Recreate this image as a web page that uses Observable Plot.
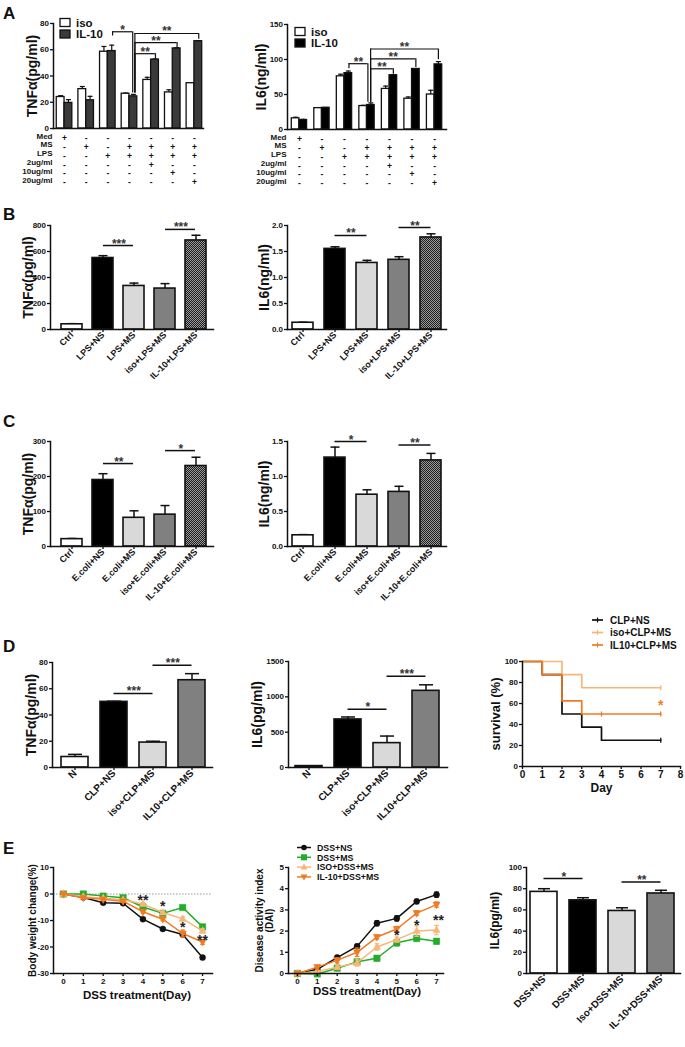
<!DOCTYPE html>
<html><head><meta charset="utf-8">
<script src="https://cdn.jsdelivr.net/npm/d3@7"></script>
<script src="https://cdn.jsdelivr.net/npm/@observablehq/plot@0.6"></script>
<style>
body{margin:0;background:#fff;}
#root{position:relative;width:685px;height:1047px;overflow:hidden;background:#fff;}
</style></head><body>
<svg width="0" height="0" style="position:absolute"><defs>
<pattern id="chk" width="2" height="2" patternUnits="userSpaceOnUse"><rect width="2" height="2" fill="#9a9a9a"/><rect width="1" height="1" fill="#1e1e1e"/><rect x="1" y="1" width="1" height="1" fill="#1e1e1e"/></pattern>
</defs></svg>
<div id="root"></div>
<script>
// ---------------- DATA ----------------
// Panel A
const aRowLabels = ["Med","MS","LPS","2ug/ml","10ug/ml","20ug/ml"];
const aSigns = [
  ["+","-","-","-","-","-","-"],
  ["-","+","-","+","+","+","+"],
  ["-","-","+","+","+","+","+"],
  ["-","-","-","-","+","-","-"],
  ["-","-","-","-","-","+","-"],
  ["-","-","-","-","-","-","+"]
];
const aLegend = ["iso","IL-10"];
const aTnfIso = [24, 30, 58.5, 26.5, 37, 27.5, 34.5];
const aTnfIsoErr = [1, 2, 4, 0.5, 2, 2, 0];
const aTnfIl10 = [19.5, 21.5, 59, 24.5, 52.5, 61, 66.5];
const aTnfIl10Err = [2.5, 3, 4.5, 1.5, 0.5, 0.5, 0.5];
const aIl6Iso = [16, 30.5, 76, 33.5, 58, 44, 50];
const aIl6IsoErr = [1.5, 0.5, 3, 1, 4, 2.5, 6];
const aIl6Il10 = [13.5, 31, 80.5, 35, 77.5, 86.5, 93];
const aIl6Il10Err = [1, 0.5, 3, 3, 1, 0.5, 4];
const aTnfBrackets = [
  {a: 2.22, b: 3.15, y: 73.7, ya: 70.5, yb: 27, label: "*"},
  {a: 3.25, b: 6.2, y: 72.4, ya: 27, yb: 68, label: "**"},
  {a: 3.25, b: 5.2, y: 65.5, ya: 27, yb: 61.8, label: "**"},
  {a: 3.25, b: 4.2, y: 57, ya: 27, yb: 53.3, label: "**"}
];
const aIl6Brackets = [
  {a: 2.2, b: 3.04, y: 94, ya: 86.7, yb: 39, label: "**"},
  {a: 3.16, b: 6.17, y: 115, ya: 39, yb: 99.5, label: "**"},
  {a: 3.16, b: 5.17, y: 101, ya: 39, yb: 88.5, label: "**"},
  {a: 3.16, b: 4.17, y: 86.7, ya: 39, yb: 79, label: "**"}
];
// Panel B
const bCats = ["Ctrl","LPS+NS","LPS+MS","iso+LPS+MS","IL-10+LPS+MS"];
const bTnf = [40, 550, 335, 315, 685];
const bTnfErr = [5, 18, 22, 38, 40];
const bIl6 = [0.13, 1.55, 1.28, 1.34, 1.77];
const bIl6Err = [0.01, 0.04, 0.05, 0.06, 0.07];
const bTnfSig = [{from:"LPS+NS", to:"LPS+MS", y:646, label:"***"}, {from:"iso+LPS+MS", to:"IL-10+LPS+MS", y:770, label:"***"}];
const bIl6Sig = [{from:"LPS+NS", to:"LPS+MS", y:1.81, label:"**"}, {from:"iso+LPS+MS", to:"IL-10+LPS+MS", y:1.96, label:"**"}];
// Panel C
const cCats = ["Ctrl","E.coli+NS","E.coli+MS","iso+E.coli+MS","IL-10+E.coli+MS"];
const cTnf = [21, 190, 82, 91, 230];
const cTnfErr = [2, 18, 20, 26, 25];
const cIl6 = [0.16, 1.27, 0.74, 0.78, 1.23];
const cIl6Err = [0.01, 0.15, 0.07, 0.08, 0.1];
const cTnfSig = [{from:"E.coli+NS", to:"E.coli+MS", y:237, label:"**"}, {from:"iso+E.coli+MS", to:"IL-10+E.coli+MS", y:274, label:"*"}];
const cIl6Sig = [{from:"E.coli+NS", to:"E.coli+MS", y:1.5, label:"*"}, {from:"iso+E.coli+MS", to:"IL-10+E.coli+MS", y:1.45, label:"**"}];
const fiveFills = ["#ffffff", "#000000", "#d9d9d9", "#808080", "url(#chk)"];
// Panel D
const dCats = ["N","CLP+NS","iso+CLP+MS","IL10+CLP+MS"];
const dTnf = [8, 50, 19, 66.5];
const dTnfErr = [2, 0.5, 1, 5];
const dIl6 = [20, 680, 345, 1085];
const dIl6Err = [5, 35, 100, 85];
const dFills = ["#ffffff", "#000000", "#d9d9d9", "#808080"];
const dTnfSig = [{from:"CLP+NS", to:"iso+CLP+MS", y:56.4, label:"***"}, {from:"iso+CLP+MS", to:"IL10+CLP+MS", y:78, label:"***"}];
const dIl6Sig = [{from:"CLP+NS", to:"iso+CLP+MS", y:823, label:"*"}, {from:"iso+CLP+MS", to:"IL10+CLP+MS", y:1291, label:"***"}];
// survival
const survNames = ["CLP+NS","iso+CLP+MS","IL10+CLP+MS"];
const survClpDays = [0, 1, 2, 3, 4, 7];
const survClpPct = [100, 87.5, 50, 37.5, 25, 25];
const survIsoDays = [0, 2, 3, 7];
const survIsoPct = [100, 87.5, 75, 75];
const survIl10Days = [0, 1, 2, 3, 7];
const survIl10Pct = [100, 87.5, 62.5, 50, 50];
const survClpCens = [[7, 25]];
const survIsoCens = [[7, 75]];
const survIl10Cens = [[4, 50], [7, 50]];
const survStar = [{t: 7, s: 61, label: "*"}];
// Panel E
const eDays = [0, 1, 2, 3, 4, 5, 6, 7];
const eNames = ["DSS+NS","DSS+MS","ISO+DSS+MS","IL-10+DSS+MS"];
const bwNS = [0, -1.3, -3.3, -3.5, -9.5, -13.2, -15.3, -24];
const bwNSErr = [0, 0.3, 0.4, 0.4, 0.5, 0.5, 0.6, 0.7];
const bwMS = [0, 0, -0.8, -1.4, -4.9, -7.3, -5.1, -12.4];
const bwMSErr = [0, 0.2, 0.3, 0.3, 0.5, 0.6, 0.5, 0.8];
const bwISO = [0, -1, -1.6, -2.2, -3.8, -7, -9.4, -13.9];
const bwISOErr = [0, 0.3, 0.3, 0.4, 0.5, 0.6, 0.7, 0.8];
const bwIL10 = [0, -1.4, -2, -2.7, -6.7, -9.5, -14.9, -18.1];
const bwIL10Err = [0, 0.3, 0.3, 0.4, 0.5, 0.6, 1.3, 0.9];
const bwStars = [{d: 4, v: -1.4, label: "**"}, {d: 5, v: -3.5, label: "*"}, {d: 6, v: -11.5, label: "*"}, {d: 7, v: -16.5, label: "**"}];
const daiNS = [0, 0.2, 0.75, 1.28, 2.37, 2.6, 3.4, 3.72];
const daiNSErr = [0, 0.05, 0.1, 0.1, 0.12, 0.12, 0.1, 0.12];
const daiMS = [0, -0.02, 0.25, 0.55, 0.72, 1.45, 1.65, 1.52];
const daiMSErr = [0, 0.02, 0.08, 0.1, 0.12, 0.15, 0.1, 0.12];
const daiISO = [0, 0.1, 0.3, 0.5, 1.25, 1.6, 2.0, 2.05];
const daiISOErr = [0, 0.05, 0.1, 0.15, 0.15, 0.12, 0.25, 0.22];
const daiIL10 = [0, 0.3, 0.62, 1.0, 1.72, 2.1, 2.85, 3.25];
const daiIL10Err = [0, 0.1, 0.12, 0.2, 0.1, 0.12, 0.1, 0.12];
const daiStars = [{d: 5, v: 1.95, label: "*"}, {d: 6, v: 2.4, label: "*"}, {d: 7.1, v: 2.65, label: "**"}];
const eCats = ["DSS+NS","DSS+MS","Iso+DSS+MS","IL-10+DSS+MS"];
const eIl6 = [77, 69, 59, 75.5];
const eIl6Err = [3, 2.5, 3, 3];
const eSig = [{from:"DSS+NS", to:"DSS+MS", y:89.6, label:"*"}, {from:"Iso+DSS+MS", to:"IL-10+DSS+MS", y:86.4, label:"**"}];

// ---------------- HELPERS ----------------
const FONT = '"Liberation Sans", Arial, Helvetica, sans-serif';
const INK = "#111";
const C_GREEN = "#22ad2a", C_PEACH = "#f7b679", C_ORANGE = "#ef7b22";
const root = document.getElementById("root");
const hline = {draw(ctx, size) { const r = Math.sqrt(size / Math.PI); ctx.moveTo(-r, 0); ctx.lineTo(r, 0); }};
const vtick = {draw(ctx, size) { const r = Math.sqrt(size / Math.PI); ctx.moveTo(0, -r); ctx.lineTo(0, r); }};
const triUp = {draw(ctx, size) { const r = Math.sqrt(size / Math.PI); ctx.moveTo(0, -r * 1.15); ctx.lineTo(-r, r * 0.7); ctx.lineTo(r, r * 0.7); ctx.closePath(); }};
const triDown = {draw(ctx, size) { const r = Math.sqrt(size / Math.PI); ctx.moveTo(0, r * 1.15); ctx.lineTo(-r, -r * 0.7); ctx.lineTo(r, -r * 0.7); ctx.closePath(); }};

function box(o, ml = 60, mr = 14, mt = 30, mb = 100) {
  return {L: o.x0 - ml, T: o.yt - mt, W: o.x1 - o.x0 + ml + mr, H: o.yb - o.yt + mt + mb, ml, mr, mt, mb};
}
function style(b) {
  return {position: "absolute", left: b.L + "px", top: b.T + "px", background: "transparent", overflow: "visible",
    fontFamily: FONT, fontWeight: "bold", maxWidth: "none", color: INK};
}
function axesMarks(o) {
  return [
    Plot.axisY({ticks: o.yticks, tickFormat: o.fmt || (d => String(d)), tickSize: 3, tickPadding: 1.5, fontSize: 8, label: null, strokeWidth: 1.3}),
    Plot.frame({anchor: "left", strokeWidth: 1.5}),
    Plot.frame({anchor: "bottom", strokeWidth: 1.5}),
    ...o.titles.map(t => Plot.text([t.text], {text: d => d, frameAnchor: "left", textAnchor: "middle", lineAnchor: "middle", rotate: -90, dx: t.dx, fontSize: t.size}))
  ];
}

function barChart(o) {
  const b = box(o);
  const n = o.cats.length, step = (o.cn - o.c0) / (n - 1), pi = 1 - o.bw / step;
  const rows = o.cats.map((c, i) => ({c, v: o.vals[i], e: o.errs[i], f: o.fills[i]}));
  const svg = Plot.plot({
    width: b.W, height: b.H, marginLeft: b.ml, marginRight: b.mr, marginTop: b.mt, marginBottom: b.mb,
    style: style(b),
    x: {type: "band", domain: o.cats, range: [o.c0 - step / 2 - b.L, o.cn + step / 2 - b.L], paddingInner: pi, paddingOuter: pi / 2},
    y: {domain: [0, o.ymax]},
    color: {type: "identity"},
    marks: [
      Plot.ruleX(rows, {x: "c", y1: "v", y2: d => d.v + d.e, stroke: INK, strokeWidth: 1.5}),
      Plot.dot(rows, {x: "c", y: d => d.v + d.e, symbol: hline, r: o.cap, stroke: INK, fill: "none", strokeWidth: 1.5}),
      Plot.barY(rows, {x: "c", y1: 0, y2: "v", fill: "f", stroke: INK, strokeWidth: 1.6}),
      Plot.ruleY(o.sig, {x1: "from", x2: "to", y: "y", insetLeft: o.bw / 2, insetRight: o.bw / 2, stroke: INK, strokeWidth: 1.5}),
      Plot.text(o.sig, {x: "from", dx: step / 2, y: "y", text: "label", lineAnchor: "bottom", dy: 2, fontSize: 12, fill: "#333"}),
      Plot.axisX({tickRotate: -45, tickSize: 3, tickPadding: 1, fontSize: o.catSize, label: null, strokeWidth: 1.3}),
      ...axesMarks(o)
    ]
  });
  root.appendChild(svg);
}

function groupChart(o) {
  const b = box(o, 60, 14, 30, 70);
  const rows = [];
  o.iso.forEach((v, i) => rows.push({x1: i - o.hw, x2: i, xc: i - o.hw / 2, v, e: o.isoErr[i], f: "#ffffff"}));
  o.il10.forEach((v, i) => rows.push({x1: i, x2: i + o.hw, xc: i + o.hw / 2, v, e: o.il10Err[i], f: o.il10Fill}));
  const idx = o.iso.map((_, i) => i);
  const marks = [
    Plot.ruleX(rows, {x: "xc", y1: "v", y2: d => d.v + d.e, stroke: INK, strokeWidth: 1.2}),
    Plot.dot(rows, {x: "xc", y: d => d.v + d.e, symbol: hline, r: 2.5, stroke: INK, fill: "none", strokeWidth: 1.2}),
    Plot.rect(rows, {x1: "x1", x2: "x2", y1: 0, y2: "v", fill: "f", stroke: INK, strokeWidth: 1.3}),
    Plot.ruleY(o.br, {x1: "a", x2: "b", y: "y", stroke: INK, strokeWidth: 1.2}),
    Plot.ruleX(o.br, {x: "a", y1: "ya", y2: "y", stroke: INK, strokeWidth: 1.2}),
    Plot.ruleX(o.br, {x: "b", y1: "yb", y2: "y", stroke: INK, strokeWidth: 1.2}),
    Plot.text(o.br, {x: d => (d.a + d.b) / 2, y: "y", text: "label", lineAnchor: "bottom", dy: 2, fontSize: 12, fill: "#333"}),
    ...axesMarks(o)
  ];
  aRowLabels.forEach((lab, r) => {
    const dy = 10 + r * 8.8;
    marks.push(Plot.text([lab], {text: d => d, frameAnchor: "bottom-left", textAnchor: "end", dx: -1, dy, fontSize: 8}));
    marks.push(Plot.text(idx, {x: d => d, y: 0, text: i => aSigns[r][i], dy, fontSize: 8.5}));
  });
  const svg = Plot.plot({
    width: b.W, height: b.H, marginLeft: b.ml, marginRight: b.mr, marginTop: b.mt, marginBottom: b.mb,
    style: style(b),
    x: {domain: o.xdom, axis: null},
    y: {domain: [0, o.ymax]},
    color: {type: "identity"},
    marks
  });
  root.appendChild(svg);
}

function lineChart(o) {
  const b = box(o, 60, 14, 30, 50);
  const marks = [];
  if (o.zero) marks.push(Plot.ruleY([0], {stroke: "#9a9a9a", strokeDasharray: "1.5,1.5", strokeWidth: 1}));
  o.series.forEach(s => {
    const rows = eDays.map((d, i) => ({d, v: s.vals[i], e: s.errs[i]}));
    marks.push(Plot.line(rows, {x: "d", y: "v", stroke: s.color, strokeWidth: 1.5}));
    marks.push(Plot.ruleX(rows, {x: "d", y1: r => r.v - r.e, y2: r => r.v + r.e, stroke: s.color, strokeWidth: 1.2}));
    marks.push(Plot.dot(rows, {x: "d", y: r => r.v + r.e, symbol: hline, r: 2.3, stroke: s.color, fill: "none", strokeWidth: 1.2}));
    marks.push(Plot.dot(rows, {x: "d", y: r => r.v - r.e, symbol: hline, r: 2.3, stroke: s.color, fill: "none", strokeWidth: 1.2}));
    marks.push(Plot.dot(rows, {x: "d", y: "v", symbol: s.symbol, r: s.r, fill: s.color, stroke: s.color, strokeWidth: 0.5}));
  });
  marks.push(Plot.text(o.stars, {x: "d", y: "v", text: "label", fontSize: 14, dy: 3, fill: "#222"}));
  marks.push(Plot.axisX({ticks: eDays, tickFormat: d => String(d), tickSize: 3, tickPadding: 1.5, fontSize: 8, label: null, strokeWidth: 1.3}));
  marks.push(Plot.text([o.xtitle], {text: d => d, frameAnchor: "bottom", textAnchor: "middle", dx: o.xtdx, dy: o.xtdy, fontSize: 11.5}));
  marks.push(...axesMarks(o));
  const svg = Plot.plot({
    width: b.W, height: b.H, marginLeft: b.ml, marginRight: b.mr, marginTop: b.mt, marginBottom: b.mb,
    style: style(b),
    x: {domain: o.xdom},
    y: {domain: o.ydom},
    marks
  });
  root.appendChild(svg);
}

function survChart(o) {
  const b = box(o, 60, 14, 30, 50);
  const series = [
    {days: survClpDays, pct: survClpPct, cens: survClpCens, color: INK},
    {days: survIsoDays, pct: survIsoPct, cens: survIsoCens, color: C_PEACH},
    {days: survIl10Days, pct: survIl10Pct, cens: survIl10Cens, color: C_ORANGE}
  ];
  const marks = [];
  series.forEach(s => {
    const rows = s.days.map((t, i) => ({t, p: s.pct[i]}));
    marks.push(Plot.line(rows, {x: "t", y: "p", curve: "step-after", stroke: s.color, strokeWidth: 1.7}));
    marks.push(Plot.dot(s.cens, {x: d => d[0], y: d => d[1], symbol: vtick, r: 2.5, stroke: s.color, fill: "none", strokeWidth: 1.3}));
  });
  marks.push(Plot.text(survStar, {x: "t", y: "s", text: "label", fill: C_ORANGE, fontSize: 14, dy: 3}));
  marks.push(Plot.axisX({ticks: d3.range(0, 9), tickFormat: d => String(d), tickSize: 3, tickPadding: 1.5, fontSize: 10, label: null, strokeWidth: 1.3}));
  marks.push(Plot.text(["Day"], {text: d => d, frameAnchor: "bottom", textAnchor: "middle", dy: 25, fontSize: 12}));
  marks.push(...axesMarks(o));
  const svg = Plot.plot({
    width: b.W, height: b.H, marginLeft: b.ml, marginRight: b.mr, marginTop: b.mt, marginBottom: b.mb,
    style: style(b),
    x: {domain: [0, 8]},
    y: {domain: [0, 100]},
    marks
  });
  root.appendChild(svg);
}

// ---------------- CHARTS ----------------
groupChart({x0: 53, x1: 203, yt: 23, yb: 128, xdom: [-0.51, 6.42], hw: 0.36,
  iso: aTnfIso, isoErr: aTnfIsoErr, il10: aTnfIl10, il10Err: aTnfIl10Err, il10Fill: "#3a3a3a",
  ymax: 80, yticks: [0, 20, 40, 60, 80], br: aTnfBrackets,
  titles: [{text: "TNFα(pg/ml)", dx: -21, size: 14}]});
groupChart({x0: 287, x1: 446, yt: 24, yb: 129, xdom: [-0.53, 6.53], hw: 0.34,
  iso: aIl6Iso, isoErr: aIl6IsoErr, il10: aIl6Il10, il10Err: aIl6Il10Err, il10Fill: "#000000",
  ymax: 150, yticks: [0, 50, 100, 150], br: aIl6Brackets,
  titles: [{text: "IL6(ng/ml)", dx: -26, size: 14}]});

barChart({x0: 50, x1: 213, yt: 225, yb: 329, c0: 70, cn: 197, bw: 22, cap: 4.5, catSize: 9,
  cats: bCats, vals: bTnf, errs: bTnfErr, fills: fiveFills, ymax: 800, yticks: [0, 200, 400, 600, 800],
  sig: bTnfSig, titles: [{text: "TNFα(pg/ml)", dx: -22, size: 14}]});
barChart({x0: 287, x1: 446, yt: 225, yb: 329, c0: 302, cn: 430, bw: 21, cap: 4.5, catSize: 9,
  cats: bCats, vals: bIl6, errs: bIl6Err, fills: fiveFills, ymax: 2, yticks: [0, 0.5, 1, 1.5, 2], fmt: d3.format(".1f"),
  sig: bIl6Sig, titles: [{text: "IL6(ng/ml)", dx: -23, size: 14}]});

barChart({x0: 50, x1: 213, yt: 441, yb: 546, c0: 70, cn: 197, bw: 22, cap: 4.5, catSize: 9,
  cats: cCats, vals: cTnf, errs: cTnfErr, fills: fiveFills, ymax: 300, yticks: [0, 100, 200, 300],
  sig: cTnfSig, titles: [{text: "TNFα(pg/ml)", dx: -22, size: 14}]});
barChart({x0: 287, x1: 446, yt: 441, yb: 546, c0: 302, cn: 430, bw: 21, cap: 4.5, catSize: 9,
  cats: cCats, vals: cIl6, errs: cIl6Err, fills: fiveFills, ymax: 1.5, yticks: [0, 0.5, 1, 1.5], fmt: d3.format(".1f"),
  sig: cIl6Sig, titles: [{text: "IL6(ng/ml)", dx: -23, size: 14}]});

barChart({x0: 52, x1: 212, yt: 662, yb: 767, c0: 73, cn: 192, bw: 27, cap: 7, catSize: 10,
  cats: dCats, vals: dTnf, errs: dTnfErr, fills: dFills, ymax: 80, yticks: [0, 20, 40, 60, 80],
  sig: dTnfSig, titles: [{text: "TNFα(pg/ml)", dx: -21, size: 14}]});
barChart({x0: 288, x1: 447, yt: 661, yb: 767, c0: 307, cn: 426, bw: 27, cap: 7, catSize: 10,
  cats: dCats, vals: dIl6, errs: dIl6Err, fills: dFills, ymax: 1500, yticks: [0, 500, 1000, 1500],
  sig: dIl6Sig, titles: [{text: "IL6(pg/ml)", dx: -31, size: 14}]});
survChart({x0: 522, x1: 680, yt: 661, yb: 766, yticks: [0, 20, 40, 60, 80, 100],
  titles: [{text: "survival (%)", dx: -27, size: 13}]});

const eSeriesStyle = [
  {color: INK, symbol: "circle", r: 3},
  {color: C_GREEN, symbol: "square", r: 3.6},
  {color: C_PEACH, symbol: triUp, r: 3.6},
  {color: C_ORANGE, symbol: triDown, r: 3.6}
];
lineChart({x0: 53, x1: 212, yt: 867, yb: 973, xdom: [-0.5, 7.5], ydom: [-30, 10], yticks: [-30, -20, -10, 0, 10], zero: true,
  series: [
    {vals: bwNS, errs: bwNSErr, ...eSeriesStyle[0]},
    {vals: bwMS, errs: bwMSErr, ...eSeriesStyle[1]},
    {vals: bwISO, errs: bwISOErr, ...eSeriesStyle[2]},
    {vals: bwIL10, errs: bwIL10Err, ...eSeriesStyle[3]}
  ], stars: bwStars, xtitle: "DSS treatment(Day)", xtdx: 4, xtdy: 25,
  titles: [{text: "Body weight change(%)", dx: -21, size: 10}]});
lineChart({x0: 288, x1: 443, yt: 867, yb: 973, xdom: [-0.45, 7.35], ydom: [0, 5], yticks: [0, 1, 2, 3, 4, 5],
  series: [
    {vals: daiNS, errs: daiNSErr, ...eSeriesStyle[0]},
    {vals: daiMS, errs: daiMSErr, ...eSeriesStyle[1]},
    {vals: daiISO, errs: daiISOErr, ...eSeriesStyle[2]},
    {vals: daiIL10, errs: daiIL10Err, ...eSeriesStyle[3]}
  ], stars: daiStars, xtitle: "DSS treatment(Day)", xtdx: 1, xtdy: 21,
  titles: [{text: "Disease activity index", dx: -29, size: 10}, {text: "(DAI)", dx: -19, size: 10}]});
barChart({x0: 526, x1: 680, yt: 867, yb: 973, c0: 542, cn: 661, bw: 27, cap: 6, catSize: 10,
  cats: eCats, vals: eIl6, errs: eIl6Err, fills: dFills, ymax: 100, yticks: [0, 20, 40, 60, 80, 100],
  sig: eSig, titles: [{text: "IL6(pg/ml)", dx: -31, size: 12}]});

// ---------------- OVERLAY: panel letters & legends ----------------
const ov = d3.select(root).append("svg").attr("width", 685).attr("height", 1047)
  .style("position", "absolute").style("left", "0px").style("top", "0px")
  .attr("font-family", FONT).attr("font-weight", "bold").attr("fill", INK);
[["A", 19], ["B", 220], ["C", 427], ["D", 652], ["E", 854]].forEach(([t, y]) =>
  ov.append("text").attr("x", 3).attr("y", y).attr("font-size", 17).text(t));
function boxLegend(x, ys, fills) {
  aLegend.forEach((lab, k) => {
    ov.append("rect").attr("x", x).attr("y", ys[k] - 4).attr("width", 10).attr("height", 8)
      .attr("fill", fills[k]).attr("stroke", INK).attr("stroke-width", 1.3);
    ov.append("text").attr("x", x + 16).attr("y", ys[k] + 4).attr("font-size", 11.5).text(lab);
  });
}
boxLegend(60, [22.5, 34], ["#ffffff", "#3a3a3a"]);
boxLegend(295, [31.5, 43], ["#ffffff", "#000000"]);
const survColors = [INK, C_PEACH, C_ORANGE];
survNames.forEach((nm, k) => {
  const y = 620 + k * 12.5;
  ov.append("line").attr("x1", 592).attr("x2", 603).attr("y1", y).attr("y2", y).attr("stroke", survColors[k]).attr("stroke-width", 1.7);
  ov.append("line").attr("x1", 597.5).attr("x2", 597.5).attr("y1", y - 2.5).attr("y2", y + 2.5).attr("stroke", survColors[k]).attr("stroke-width", 1.2);
  ov.append("text").attr("x", 610).attr("y", y + 3.6).attr("font-size", 10).text(nm);
});
eNames.forEach((nm, k) => {
  const y = 847.5 + k * 9.8, c = eSeriesStyle[k].color, cx = 304;
  ov.append("line").attr("x1", 297).attr("x2", 311).attr("y1", y).attr("y2", y).attr("stroke", c).attr("stroke-width", 1.5);
  if (k === 0) ov.append("circle").attr("cx", cx).attr("cy", y).attr("r", 2.8).attr("fill", c);
  if (k === 1) ov.append("rect").attr("x", cx - 3).attr("y", y - 3).attr("width", 6).attr("height", 6).attr("fill", c);
  if (k === 2) ov.append("path").attr("d", `M${cx},${y - 3.6}L${cx - 3.4},${y + 2.4}L${cx + 3.4},${y + 2.4}Z`).attr("fill", c);
  if (k === 3) ov.append("path").attr("d", `M${cx},${y + 3.6}L${cx - 3.4},${y - 2.4}L${cx + 3.4},${y - 2.4}Z`).attr("fill", c);
  ov.append("text").attr("x", 317).attr("y", y + 3.2).attr("font-size", 8.8).text(nm);
});
</script></body></html>
